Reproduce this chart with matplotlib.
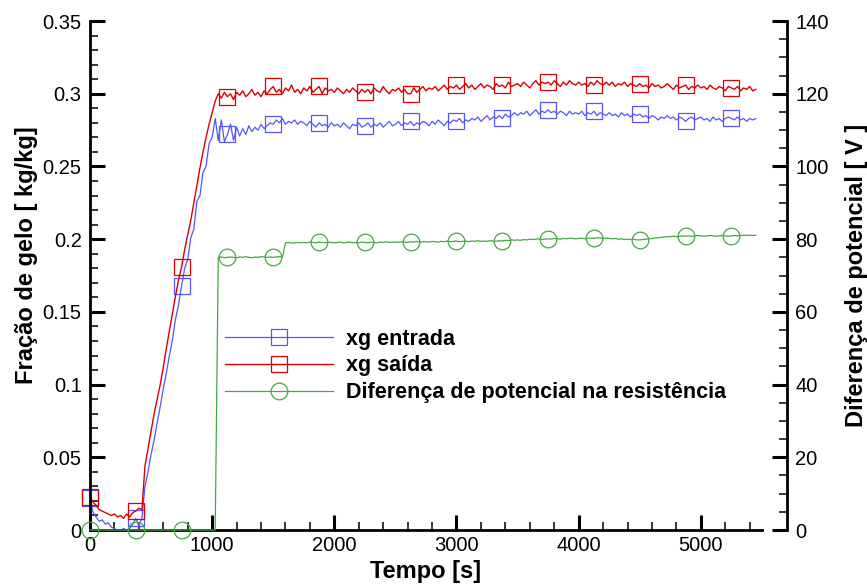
import matplotlib
matplotlib.use('Agg')
import matplotlib.pyplot as plt
from matplotlib.ticker import MultipleLocator
import numpy as np

plt.rcParams['font.family'] = ['Liberation Sans', 'DejaVu Sans']

# tempo de amostragem [s]
tempo = np.arange(0, 5475, 25)

# fração de gelo na entrada [kg/kg]
xg_entrada = [
    0.022, 0.012, 0.009, 0.006, 0.007, 0.004, 0.005, 0.002, 0.001, 0.000,
    0.000, 0.001, 0.000, 0.001, 0.004, 0.008, 0.003, 0.008, 0.030, 0.040,
    0.052, 0.062, 0.074, 0.085, 0.097, 0.108, 0.120, 0.131, 0.145, 0.155,
    0.168, 0.180, 0.186, 0.201, 0.207, 0.226, 0.230, 0.246, 0.250, 0.266,
    0.270, 0.283, 0.268, 0.282, 0.267, 0.272, 0.279, 0.268, 0.277, 0.271,
    0.276, 0.272, 0.278, 0.274, 0.277, 0.275, 0.279, 0.276, 0.278, 0.280,
    0.279, 0.282, 0.280, 0.283, 0.279, 0.281, 0.280, 0.282, 0.279, 0.281,
    0.280, 0.278, 0.281, 0.279, 0.277, 0.280, 0.278, 0.279, 0.277, 0.280,
    0.278, 0.279, 0.277, 0.280, 0.278, 0.276, 0.279, 0.278, 0.280, 0.277,
    0.278, 0.280, 0.277, 0.279, 0.278, 0.280, 0.277, 0.279, 0.281, 0.278,
    0.279, 0.281, 0.278, 0.280, 0.279, 0.281, 0.278, 0.280, 0.279, 0.281,
    0.280, 0.278, 0.281, 0.279, 0.282, 0.280, 0.278, 0.281, 0.280, 0.282,
    0.281, 0.283, 0.280, 0.282, 0.281, 0.283, 0.282, 0.284, 0.281, 0.283,
    0.285, 0.282, 0.284, 0.283, 0.285, 0.283, 0.286, 0.284, 0.285, 0.287,
    0.285, 0.287, 0.286, 0.288, 0.285, 0.287, 0.289, 0.286, 0.288, 0.287,
    0.289, 0.287, 0.288, 0.286, 0.288, 0.287, 0.285, 0.288, 0.286, 0.287,
    0.286, 0.288, 0.285, 0.287, 0.286, 0.288, 0.285, 0.287, 0.286, 0.285,
    0.287, 0.285, 0.286, 0.284, 0.287, 0.285, 0.286, 0.284, 0.286, 0.285,
    0.286, 0.284, 0.285, 0.283, 0.285, 0.284, 0.282, 0.284, 0.283, 0.285,
    0.283, 0.284, 0.282, 0.284, 0.283, 0.281, 0.283, 0.284, 0.282, 0.283,
    0.284, 0.282, 0.283, 0.281, 0.284, 0.282, 0.283, 0.281, 0.283, 0.284,
    0.283, 0.282, 0.284, 0.282, 0.283, 0.281, 0.283, 0.282, 0.283,
]

# fração de gelo na saída [kg/kg]
xg_saida = [
    0.023, 0.019, 0.017, 0.014, 0.013, 0.012, 0.011, 0.010, 0.011, 0.009,
    0.010, 0.008, 0.011, 0.009, 0.012, 0.013, 0.015, 0.014, 0.044, 0.056,
    0.068, 0.080, 0.090, 0.100, 0.112, 0.125, 0.137, 0.149, 0.161, 0.172,
    0.181, 0.193, 0.203, 0.213, 0.225, 0.237, 0.249, 0.260, 0.270, 0.279,
    0.287, 0.295, 0.300, 0.297, 0.301, 0.298, 0.300, 0.296, 0.301, 0.299,
    0.302, 0.298, 0.300, 0.303, 0.299, 0.301, 0.298, 0.302, 0.300, 0.303,
    0.305, 0.301, 0.303, 0.300, 0.304, 0.302, 0.306, 0.301, 0.303, 0.300,
    0.304, 0.302, 0.305, 0.301, 0.303, 0.305, 0.300, 0.304, 0.302, 0.303,
    0.301, 0.304, 0.302, 0.300, 0.303, 0.301, 0.304, 0.302, 0.300, 0.303,
    0.301, 0.303, 0.300, 0.304, 0.302, 0.301, 0.305, 0.302, 0.300, 0.303,
    0.302, 0.304, 0.301, 0.303, 0.300, 0.300, 0.304, 0.301, 0.303, 0.305,
    0.302, 0.304, 0.303, 0.305, 0.302, 0.304, 0.306, 0.303, 0.305, 0.304,
    0.306, 0.303, 0.305, 0.307, 0.304, 0.306, 0.303, 0.305, 0.307, 0.304,
    0.306, 0.305, 0.303, 0.307, 0.305, 0.306, 0.304, 0.308, 0.305, 0.306,
    0.307, 0.305, 0.308, 0.306, 0.304, 0.307, 0.309, 0.306, 0.308, 0.307,
    0.308, 0.306, 0.309, 0.307, 0.305, 0.308, 0.306, 0.309, 0.307, 0.306,
    0.308, 0.306, 0.307, 0.305, 0.308, 0.306, 0.309, 0.307, 0.306, 0.308,
    0.306, 0.308, 0.305, 0.307, 0.306, 0.308, 0.305, 0.307, 0.306, 0.305,
    0.307, 0.305, 0.306, 0.304, 0.307, 0.305, 0.306, 0.304, 0.305, 0.307,
    0.305, 0.303, 0.306, 0.304, 0.305, 0.306, 0.303, 0.305, 0.304, 0.306,
    0.304, 0.305, 0.303, 0.306, 0.304, 0.303, 0.305, 0.304, 0.302, 0.305,
    0.304, 0.303, 0.305, 0.302, 0.304, 0.303, 0.305, 0.302, 0.303,
]

# diferença de potencial na resistência [V]
ddp = [
    0, 0, 0, 0, 0, 0, 0, 0, 0, 0,
    0, 0, 0, 0, 0, 0, 0, 0, 0, 0,
    0, 0, 0, 0, 0, 0, 0, 0, 0, 0,
    0, 0, 0, 0, 0, 0, 0, 0, 0, 0,
    0, 0, 75.0, 75.1, 74.9, 75.0, 75.1, 75.0, 74.9, 75.1,
    75.0, 75.2, 75.0, 74.9, 75.1, 75.0, 75.2, 75.1, 75.0, 75.1,
    75.0, 75.1, 75.2, 75.0, 79.0, 79.1, 78.9, 79.0, 79.1, 79.0,
    79.1, 79.0, 79.2, 79.1, 79.0, 79.2, 79.1, 79.0, 79.2, 79.1,
    79.0, 79.1, 79.2, 79.0, 79.1, 79.2, 79.0, 79.1, 79.0, 79.2,
    79.1, 79.0, 79.2, 79.1, 79.0, 79.2, 79.1, 79.3, 79.1, 79.2,
    79.2, 79.1, 79.3, 79.2, 79.1, 79.3, 79.2, 79.4, 79.2, 79.3,
    79.3, 79.2, 79.4, 79.3, 79.2, 79.4, 79.3, 79.5, 79.3, 79.4,
    79.5, 79.3, 79.4, 79.5, 79.3, 79.5, 79.4, 79.6, 79.4, 79.5,
    79.4, 79.6, 79.5, 79.4, 79.6, 79.5, 79.7, 79.6, 79.8, 79.7,
    79.8, 79.7, 79.9, 79.8, 80.0, 79.9, 80.0, 80.1, 79.9, 80.0,
    80.1, 80.0, 80.2, 80.1, 80.0, 80.2, 80.1, 80.3, 80.2, 80.1,
    80.2, 80.3, 80.1, 80.2, 80.3, 80.2, 80.4, 80.3, 80.2, 80.3,
    80.2, 80.1, 80.2, 80.0, 80.1, 79.9, 80.0, 79.9, 80.0, 79.8,
    79.8, 79.9, 80.0, 80.1, 80.2, 80.3, 80.4, 80.5, 80.6, 80.7,
    80.7, 80.8, 80.7, 80.8, 80.9, 80.8, 80.9, 80.8, 80.9, 81.0,
    80.9, 80.8, 80.9, 81.0, 80.9, 80.8, 80.9, 81.0, 80.9, 80.8,
    80.9, 81.0, 80.9, 81.0, 81.1, 81.0, 81.1, 81.0, 81.1,
]

azul = '#5555ff'
vermelho = '#dd0000'
verde = '#45a845'

fig = plt.figure(figsize=(8.67, 5.85), dpi=100)
ax = fig.add_axes([0.1038, 0.094, 0.775, 0.870])
ax2 = ax.twinx()

# marcadores a cada 375 s
passo = 15
estilo = dict(markevery=passo, markerfacecolor='none', markeredgewidth=0.9, clip_on=False)
l1, = ax.plot(tempo, xg_entrada, color=azul, lw=0.9, marker='s', markersize=11.5,
              markeredgecolor=azul, label='xg entrada', **estilo)
l2, = ax.plot(tempo, xg_saida, color=vermelho, lw=1.0, marker='s', markersize=11.5,
              markeredgecolor=vermelho, label='xg saída', **estilo)
l3, = ax2.plot(tempo, ddp, color=verde, lw=0.9, marker='o', markersize=12,
               markeredgecolor=verde, label='Diferença de potencial na resistência', **estilo)

ax.set_xlim(0, 5500)
ax.set_ylim(0, 0.35)
ax2.set_ylim(0, 140)

ax.xaxis.set_major_locator(MultipleLocator(1000))
ax.xaxis.set_minor_locator(MultipleLocator(200))
ax.yaxis.set_major_locator(MultipleLocator(0.05))
ax.yaxis.set_minor_locator(MultipleLocator(0.01))
ax2.yaxis.set_major_locator(MultipleLocator(20))
ax2.yaxis.set_minor_locator(MultipleLocator(5))
ax.set_yticks([0, 0.05, 0.1, 0.15, 0.2, 0.25, 0.3, 0.35])
ax.set_yticklabels(['0', '0.05', '0.1', '0.15', '0.2', '0.25', '0.3', '0.35'])

for a in (ax, ax2):
    a.tick_params(which='major', direction='in', length=11, width=2.2, labelsize=14.5, pad=6)
    a.tick_params(which='minor', direction='in', length=5.5, width=1.1)
    a.spines['top'].set_visible(False)

ax.tick_params(axis='y', right=False, which='both')
ax.tick_params(axis='x', top=False, which='both', pad=4)
ax.spines['right'].set_visible(False)
ax.spines['left'].set_linewidth(2)
ax.spines['bottom'].set_linewidth(2)

ax2.spines['left'].set_visible(False)
ax2.spines['bottom'].set_visible(False)
ax2.spines['right'].set_position(('outward', 18))
ax2.spines['right'].set_linewidth(2)

ax.set_xlabel('Tempo [s]', fontsize=17, fontweight='bold')
ax.set_ylabel('Fração de gelo [ kg/kg]', fontsize=17, fontweight='bold')
ax2.set_ylabel('Diferença de potencial [ V ]', fontsize=17, fontweight='bold')
ax.xaxis.set_label_coords(0.5, -0.058)
ax.yaxis.set_label_coords(-0.077, 0.54)
ax2.yaxis.set_label_coords(1.123, 0.5)

fig.legend(handles=[l1, l2, l3], loc='center left', bbox_to_anchor=(225 / 867, 1 - 366 / 585),
           frameon=False, prop={'weight': 'bold', 'size': 15.5},
           handlelength=5.0, handletextpad=0.6, labelspacing=0.27,
           borderpad=0, borderaxespad=0, numpoints=1)

fig.savefig('out.png', dpi=100)
